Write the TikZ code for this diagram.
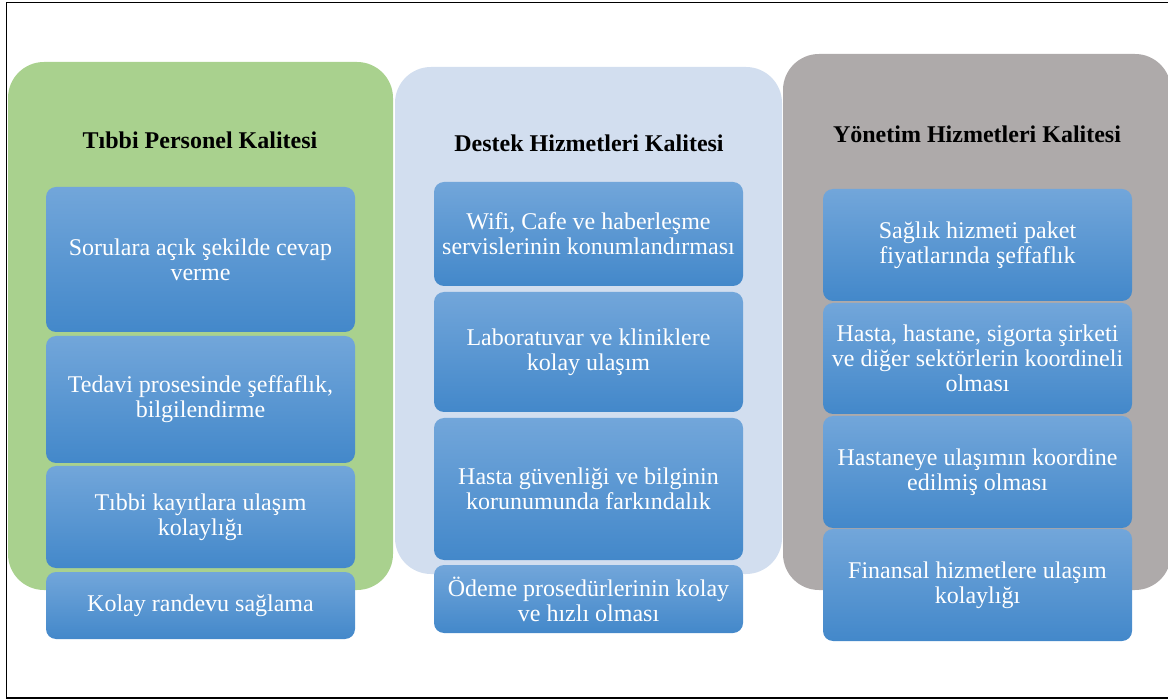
\documentclass[tikz,border=0pt]{standalone}
\usepackage{fontspec}
\setmainfont{Liberation Serif}
\definecolor{cgreen}{HTML}{A9D18E}
\definecolor{cblue}{HTML}{D2DEEF}
\definecolor{cgray}{HTML}{AEAAAA}
\definecolor{btop}{HTML}{72A6DA}
\definecolor{bmid}{HTML}{559ADE}
\definecolor{bbot}{HTML}{4388CA}
\begin{document}
\begin{tikzpicture}[x=1pt,y=-1pt,
  container/.style={rounded corners=36pt, anchor=north west, inner sep=0pt, outer sep=0pt},
  itembox/.style={rounded corners=10pt, anchor=north west, inner sep=0pt, outer sep=0pt,
    top color=btop, middle color=bmid, bottom color=bbot, text=white, align=center,
    font=\fontsize{24}{25}\selectfont, minimum width=309pt},
  title/.style={font=\bfseries\fontsize{24}{25}\selectfont, inner sep=0pt},
  frameline/.style={line width=1.3pt, black}]
\clip (0,0) rectangle (1168,700);
% containers
\node[container, fill=cgreen, minimum width=385pt, minimum height=528pt] (g) at (8,62) {};
\node[container, fill=cblue, minimum width=387pt, minimum height=507pt] (b) at (395,67) {};
\node[container, fill=cgray, minimum width=388pt, minimum height=536pt] (y) at (783,54) {};
% titles
\node[title] (t1) at (200,140) {Tıbbi Personel Kalitesi};
\node[title] (t2) at (589,143) {Destek Hizmetleri Kalitesi};
\node[title] (t3) at (977,134) {Yönetim Hizmetleri Kalitesi};
% column 1
\node[itembox, minimum height=145pt] (a1) at (46,187) {Sorulara açık şekilde cevap\\verme};
\node[itembox, minimum height=127pt] (a2) at (46,336) {Tedavi prosesinde şeffaflık,\\bilgilendirme};
\node[itembox, minimum height=102pt] (a3) at (46,466) {Tıbbi kayıtlara ulaşım\\kolaylığı};
\node[itembox, minimum height=67pt] (a4) at (46,572) {Kolay randevu sağlama};
% column 2
\node[itembox, minimum height=104pt] (c1) at (434,182) {Wifi, Cafe ve haberleşme\\servislerinin konumlandırması};
\node[itembox, minimum height=120pt] (c2) at (434,292) {Laboratuvar ve kliniklere\\kolay ulaşım};
\node[itembox, minimum height=142pt] (c3) at (434,418) {Hasta güvenliği ve bilginin\\korunumunda farkındalık};
\node[itembox, minimum height=68pt] (c4) at (434,565) {Ödeme prosedürlerinin kolay\\ve hızlı olması};
% column 3
\node[itembox, minimum height=112pt] (d1) at (823,189) {Sağlık hizmeti paket\\fiyatlarında şeffaflık};
\node[itembox, minimum height=111pt] (d2) at (823,303) {Hasta, hastane, sigorta şirketi\\ve diğer sektörlerin koordineli\\olması};
\node[itembox, minimum height=112pt] (d3) at (823,416) {Hastaneye ulaşımın koordine\\edilmiş olması};
\node[itembox, minimum height=112pt] (d4) at (823,529) {Finansal hizmetlere ulaşım\\kolaylığı};
% frame
\coordinate (f1) at (1170,2.5);
\coordinate (f2) at (6.5,2.5);
\coordinate (f3) at (6.5,698);
\coordinate (f4) at (1170,698);
\draw[frameline] (f1) -- (f2) -- (f3) -- (f4);
\end{tikzpicture}
\end{document}
